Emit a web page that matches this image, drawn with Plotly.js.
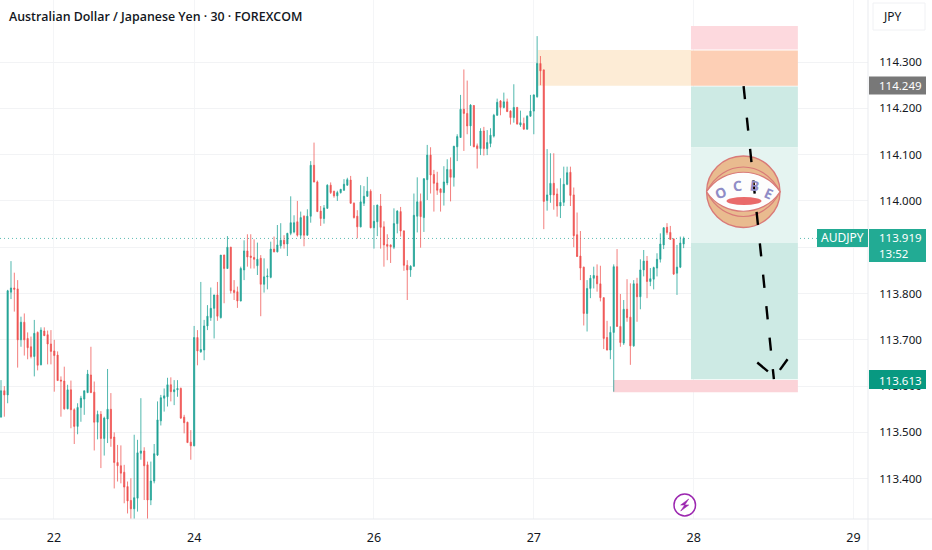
<!DOCTYPE html>
<html><head><meta charset="utf-8">
<script src="https://cdn.plot.ly/plotly-3.0.1.min.js"></script>
<style>html,body{margin:0;padding:0;background:#fff}#c{width:932px;height:550px}</style></head>
<body><div id="c"></div>
<script>
const openP=[113.533,113.590,113.581,113.803,113.812,113.810,113.700,113.738,113.703,113.685,
113.664,113.716,113.646,113.719,113.711,113.691,113.676,113.667,113.613,113.611,
113.551,113.592,113.549,113.513,113.554,113.572,113.586,113.624,113.587,113.522,
113.539,113.487,113.529,113.550,113.490,113.435,113.428,113.414,113.383,113.353,
113.335,113.358,113.455,113.460,113.430,113.354,113.395,113.451,113.525,113.574,
113.577,113.603,113.588,113.592,113.595,113.533,113.522,113.479,113.471,113.705,
113.674,113.678,113.730,113.748,113.768,113.797,113.748,113.883,113.854,113.900,
113.807,113.804,113.784,113.851,113.892,113.881,113.878,113.860,113.876,113.820,
113.836,113.835,113.896,113.890,113.903,113.915,113.907,113.930,113.933,113.955,
113.926,113.967,113.926,113.967,114.077,114.041,113.978,113.962,113.984,114.034,
114.021,114.011,114.018,114.023,114.034,114.045,113.995,113.967,113.944,113.995,
114.010,114.021,113.942,113.955,113.989,113.944,113.906,113.905,113.900,113.951,
113.977,113.935,113.861,113.851,113.859,113.967,113.999,113.964,114.046,114.099,
114.057,114.039,114.026,114.018,114.039,114.068,114.051,114.117,114.137,114.198,
114.189,114.162,114.206,114.119,114.113,114.151,114.113,114.124,114.140,114.185,
114.216,114.202,114.214,114.194,114.180,114.202,114.164,114.167,114.155,114.183,
114.194,114.225,114.297,114.283,114.001,114.013,114.038,114.015,113.989,113.997,
114.036,114.062,114.013,113.927,113.881,113.857,113.757,113.811,113.833,113.838,
113.821,113.791,113.705,113.678,113.716,113.858,113.729,113.693,113.766,113.749,
113.687,113.821,113.793,113.851,113.870,113.826,113.831,113.855,113.874,113.905,
113.943,113.932,113.918,113.844,113.857,113.907];
const highP=[113.613,113.600,113.808,113.870,113.845,113.829,113.750,113.757,113.716,113.707,
113.743,113.718,113.727,113.727,113.720,113.721,113.700,113.675,113.621,113.642,
113.603,113.612,113.552,113.563,113.579,113.590,113.635,113.685,113.610,113.547,
113.546,113.534,113.637,113.585,113.500,113.473,113.472,113.430,113.394,113.401,
113.495,113.484,113.574,113.468,113.437,113.437,113.475,113.567,113.581,113.595,
113.618,113.619,113.613,113.613,113.597,113.538,113.523,113.505,113.730,113.721,
113.825,113.743,113.775,113.813,113.797,113.825,113.883,113.884,113.924,113.901,
113.829,113.815,113.858,113.915,113.928,113.928,113.917,113.910,113.883,113.876,
113.854,113.912,113.923,113.948,113.952,113.926,113.931,114.010,113.969,114.000,
113.977,113.969,113.982,114.086,114.126,114.044,113.989,113.991,114.036,114.040,
114.022,114.022,114.026,114.047,114.050,114.054,113.997,113.980,114.034,114.032,
114.052,114.025,113.991,113.992,114.015,113.956,113.928,113.906,113.984,113.980,
113.987,113.937,113.872,113.861,114.016,114.051,114.016,114.049,114.121,114.116,
114.067,114.063,114.027,114.075,114.090,114.094,114.119,114.144,114.229,114.284,
114.260,114.209,114.207,114.124,114.157,114.160,114.153,114.157,114.188,114.221,
114.218,114.234,114.221,114.196,114.252,114.203,114.195,114.180,114.185,114.229,
114.230,114.356,114.313,114.284,114.112,114.103,114.103,114.027,114.049,114.074,
114.074,114.074,114.029,113.975,113.935,113.858,113.829,113.840,113.858,113.863,
113.860,113.792,113.741,113.729,113.863,113.896,113.799,113.786,113.831,113.822,
113.829,113.834,113.874,113.894,113.881,113.855,113.858,113.887,113.930,113.943,
113.952,113.946,113.919,113.905,113.923,113.923];
const lowP=[113.533,113.534,113.563,113.788,113.761,113.640,113.685,113.666,113.658,113.660,
113.621,113.634,113.645,113.709,113.647,113.647,113.588,113.612,113.534,113.549,
113.550,113.509,113.475,113.496,113.523,113.538,113.585,113.585,113.461,113.485,
113.423,113.450,113.477,113.469,113.379,113.394,113.390,113.347,113.325,113.311,
113.311,113.329,113.441,113.354,113.311,113.343,113.390,113.449,113.515,113.545,
113.556,113.567,113.559,113.577,113.529,113.498,113.478,113.441,113.470,113.645,
113.672,113.656,113.721,113.741,113.703,113.741,113.746,113.779,113.854,113.800,
113.786,113.769,113.783,113.829,113.858,113.854,113.854,113.840,113.751,113.802,
113.809,113.833,113.889,113.889,113.897,113.897,113.881,113.926,113.930,113.923,
113.919,113.902,113.925,113.953,114.040,113.976,113.946,113.951,113.983,114.015,
114.007,114.000,114.016,114.022,114.033,113.994,113.962,113.919,113.943,113.989,
114.009,113.941,113.897,113.924,113.897,113.858,113.872,113.866,113.896,113.930,
113.923,113.849,113.786,113.836,113.858,113.932,113.899,113.933,114.002,114.016,
113.977,114.013,113.977,113.990,114.034,113.999,114.031,114.086,114.136,114.108,
114.144,114.119,114.116,114.070,114.099,114.098,114.099,114.116,114.137,114.184,
114.185,114.200,114.192,114.165,114.169,114.165,114.160,114.154,114.154,114.182,
114.144,114.223,114.250,113.939,113.979,113.996,113.981,113.966,113.963,113.989,
114.034,113.989,113.900,113.879,113.829,113.731,113.718,113.790,113.811,113.804,
113.783,113.680,113.677,113.658,113.588,113.728,113.685,113.689,113.739,113.646,
113.685,113.739,113.766,113.837,113.790,113.816,113.809,113.837,113.867,113.896,
113.927,113.916,113.840,113.797,113.855,113.898];
const closeP=[113.590,113.581,113.806,113.812,113.809,113.700,113.738,113.700,113.683,113.664,
113.714,113.645,113.721,113.709,113.691,113.675,113.666,113.612,113.611,113.551,
113.592,113.549,113.513,113.554,113.574,113.590,113.626,113.586,113.522,113.539,
113.487,113.531,113.550,113.487,113.435,113.428,113.412,113.382,113.352,113.335,
113.359,113.456,113.460,113.428,113.354,113.395,113.454,113.527,113.575,113.579,
113.603,113.588,113.592,113.595,113.531,113.521,113.478,113.471,113.705,113.676,
113.679,113.730,113.751,113.768,113.797,113.751,113.883,113.854,113.900,113.806,
113.802,113.784,113.854,113.892,113.879,113.878,113.874,113.874,113.820,113.836,
113.838,113.896,113.890,113.905,113.915,113.907,113.930,113.953,113.953,113.926,
113.964,113.926,113.967,114.077,114.041,113.977,113.962,113.985,114.034,114.018,
114.011,114.018,114.025,114.036,114.046,113.995,113.964,113.944,113.998,114.010,
114.021,113.942,113.956,113.991,113.943,113.905,113.902,113.901,113.951,113.978,
113.935,113.861,113.851,113.859,113.969,113.998,113.966,114.048,114.099,114.056,
114.038,114.023,114.018,114.041,114.068,114.051,114.118,114.139,114.198,114.189,
114.162,114.207,114.117,114.113,114.151,114.113,114.126,114.142,114.185,114.213,
114.202,114.214,114.193,114.180,114.202,114.166,114.169,114.155,114.183,114.194,
114.229,114.297,114.281,113.999,114.013,114.038,114.013,113.989,113.997,114.036,
114.061,114.012,113.925,113.880,113.855,113.757,113.811,113.833,113.839,113.821,
113.791,113.703,113.678,113.716,113.858,113.729,113.694,113.766,113.748,113.687,
113.821,113.793,113.851,113.870,113.826,113.832,113.856,113.874,113.907,113.942,
113.932,113.917,113.842,113.857,113.909,113.919];
const barIndex=openP.map((_,i)=>i);

const dayTickBars=[15.9,58,112,160,208,256];
const dayTickLabels=['22','24','26','27','28','29'];
const priceTicks=[113.4,113.5,113.6,113.7,113.8,113.9,114.0,114.1,114.2,114.3];
const priceTickLabels=['113.400','113.500','113.600','113.700','113.800',' ','114.000','114.100','114.200','114.300'];

const pathBars=[223,232.1];
const pathPrices=[114.248,113.615];
const arrowLeftBars=[227.1,230.3];
const arrowLeftPrices=[113.651,113.632];
const arrowRightBars=[236.2,233.9];
const arrowRightPrices=[113.658,113.635];

const levelEntry=114.249, levelStop=114.326, levelStopTop=114.378;
const levelTarget=113.613, levelTargetLow=113.587, levelMidTop=114.116, levelMidLow=113.909;
const lastPrice=113.919;

const W=868,H=519;
const px=x=>x/W, py=y=>1-y/H;
const barOf=x=>(x-1)/3.33, priceOf=y=>114.3-(y-62)/463;
const GREEN='#17998a', RED='#ee4f50';

function rectD(x0,x1,y0,y1,color){return {type:'rect',layer:'between',xref:'x',yref:'y',x0,x1,y0,y1,fillcolor:color,line:{width:0}};}
function box(x0,x1,y0,y1,color,extra){return Object.assign({type:'rect',layer:'above',xref:'paper',yref:'paper',x0:px(x0),x1:px(x1),y0:py(y0),y1:py(y1),fillcolor:color,line:{width:0}},extra||{});}

const LOGOX=743.3,LOGOY=191.7;
function pix(path,fill,lc,lw){return {type:'path',layer:'between',xref:'x',yref:'y',xsizemode:'pixel',ysizemode:'pixel',xanchor:barOf(LOGOX),yanchor:priceOf(LOGOY),path,fillcolor:fill,line:{color:lc,width:lw}};}
function ell(ax,ay,rx,ry,fill,lc,lw){return {type:'circle',layer:'between',xref:'x',yref:'y',x0:barOf(ax-rx),x1:barOf(ax+rx),y0:priceOf(ay+ry),y1:priceOf(ay-ry),fillcolor:fill,line:{color:lc,width:lw}};}

const shapes=[
 rectD(161.3,207.2,levelEntry,levelStop,'#fdecd6'),
 rectD(207.2,239.3,levelStop+0.001,levelStopTop,'#fdd9de'),
 rectD(207.2,239.3,levelEntry,levelStop-0.001,'#fdcfb5'),
 rectD(207.2,239.3,levelMidTop,levelEntry-0.002,'#cdeae4'),
 rectD(207.2,239.3,levelMidLow,levelMidTop,'#e5f4f1'),
 rectD(207.2,239.3,levelTarget+0.002,levelMidLow,'#cdeae4'),
 rectD(183.8,239.3,levelTargetLow,levelTarget,'#fbd3d8'),
 ell(LOGOX,LOGOY,36.7,35.7,'#e9bb8f','#d97a78',1.4),
 pix('M-36.7,0 C-20,33 20,33 36.7,0 C20,-33 -20,-33 -36.7,0 Z','#e9bb8f','#d97a78',1.2),
 pix('M-36.7,0 C-20,26 20,26 36.7,0 C20,-26 -20,-26 -36.7,0 Z','#fdfdfd','#d97a78',1.2),
 ell(744,201,17.5,4,'#e96a6a','#e96a6a',0),
 {type:'line',layer:'between',xref:'paper',yref:'y',x0:0,x1:px(817),y0:lastPrice,y1:lastPrice,line:{color:'rgba(38,166,154,0.75)',width:1,dash:'1px,3px'}},
 {type:'circle',layer:'above',xref:'paper',yref:'paper',x0:px(674),x1:px(695.5),y0:py(516),y1:py(494),fillcolor:'#fff',line:{color:'#9c27b0',width:1.5}},
 {type:'path',layer:'above',xref:'paper',yref:'paper',xsizemode:'pixel',ysizemode:'pixel',xanchor:px(684.7),yanchor:py(505),path:'M4,6 L-4,0 L0,0 L-4,-6 L4,0 L0,0 Z',fillcolor:'#9c27b0',line:{color:'#9c27b0',width:0.6}},
 {type:'line',layer:'above',xref:'paper',yref:'paper',x0:1,x1:1,y0:py(550),y1:1,line:{color:'#e9ebef',width:1}},
 {type:'line',layer:'above',xref:'paper',yref:'paper',x0:0,x1:px(932),y0:0,y1:0,line:{color:'#e9ebef',width:1}},
 box(873,925,3,30,'#ffffff',{line:{color:'#f0f1f4',width:1}}),
 box(869,926,76.5,94.5,'#787878'),
 box(817,868,229,247,'#22ab94'),
 box(869,926,229,262,'#22ab94'),
 box(869,926,370,389,'#089981')
];

function label(x,y,text,color,size,extra){return Object.assign({xref:'paper',yref:'paper',x:px(x),y:py(y),text,showarrow:false,xanchor:'center',yanchor:'middle',font:{family:'"Noto Sans",sans-serif',size,color},borderpad:0},extra||{});}
const letter=(x,y,t,a)=>label(x,y,t,'#8f8cc6',14,{textangle:a,font:{family:'"Noto Sans",sans-serif',size:14,color:'#8f8cc6',weight:700}});
const annotations=[
 label(8,17,'Australian Dollar / Japanese Yen · 30 · FOREXCOM','#131722',12.4,{xanchor:'left',font:{family:'"Open Sans",sans-serif',size:12.4,color:'#131722',weight:600}}),
 label(892,17,'JPY','#131722',12),
 label(900,85.5,'114.249','#ffffff',11.5),
 label(842.5,238,'AUDJPY','#ffffff',12),
 label(900,237.5,'113.919','#ffffff',11.5),
 label(893.5,253.5,'13:52','#ffffff',11.5),
 label(900,380,'113.613','#ffffff',11.5),
 letter(720.7,192.3,'O',-22),
 letter(737.3,185.7,'C',-6),
 letter(754.3,185,'B',8),
 letter(769,193,'E',24)
];

const traces=[
 {type:'candlestick',x:barIndex,open:openP,high:highP,low:lowP,close:closeP,whiskerwidth:0,hoverinfo:'skip',
  increasing:{line:{color:'rgba(38,166,154,0.8)',width:1},fillcolor:GREEN},
  decreasing:{line:{color:'rgba(239,83,80,0.75)',width:1},fillcolor:RED}},
 {type:'scatter',mode:'lines',x:pathBars,y:pathPrices,hoverinfo:'skip',line:{color:'#000',width:2.4,dash:'13.2px,18.4px'}},
 {type:'scatter',mode:'lines',x:arrowLeftBars,y:arrowLeftPrices,hoverinfo:'skip',line:{color:'#000',width:2.4}},
 {type:'scatter',mode:'lines',x:arrowRightBars,y:arrowRightPrices,hoverinfo:'skip',line:{color:'#000',width:2.4}}
];

const layout={
 width:932,height:550,showlegend:false,paper_bgcolor:'#fff',plot_bgcolor:'#fff',
 margin:{l:0,r:64,t:0,b:31,pad:0},boxgap:0.5,
 font:{family:'"Noto Sans",sans-serif',size:12,color:'#131722'},
 xaxis:{type:'linear',range:[-0.3,260.36],tickmode:'array',tickvals:dayTickBars,ticktext:dayTickLabels,
   showgrid:true,gridcolor:'#f4f5f7',gridwidth:1,zeroline:false,showline:false,ticks:'outside',ticklen:7,tickcolor:'rgba(0,0,0,0)',
   tickfont:{size:12.5,color:'#131722'},rangeslider:{visible:false},fixedrange:true},
 yaxis:{type:'linear',side:'right',range:[113.313,114.434],tickmode:'array',tickvals:priceTicks,ticktext:priceTickLabels,
   showgrid:true,gridcolor:'#f2f3f5',gridwidth:1,zeroline:false,showline:false,ticks:'outside',ticklen:8,tickcolor:'rgba(0,0,0,0)',
   tickfont:{size:11.5,color:'#131722'},fixedrange:true},
 shapes,annotations
};
Plotly.newPlot('c',traces,layout,{displayModeBar:false,staticPlot:true});
</script></body></html>
